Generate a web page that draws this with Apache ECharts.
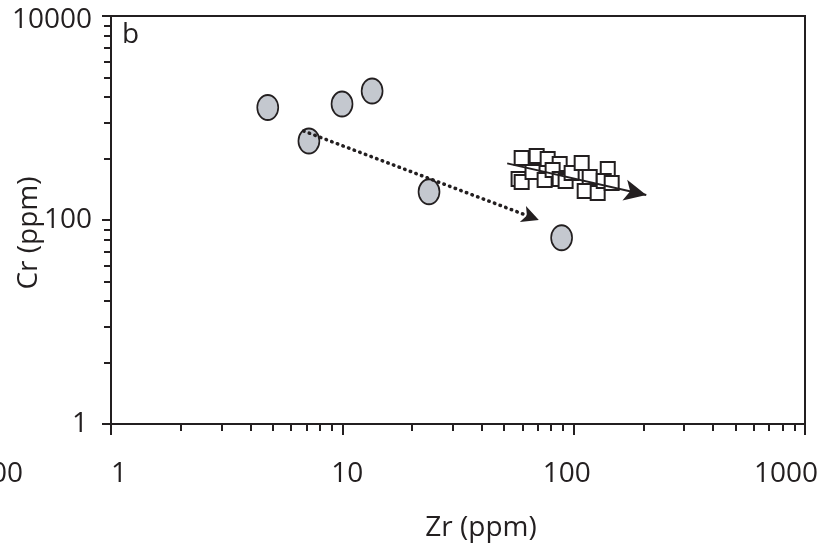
<!DOCTYPE html>
<html>
<head>
<meta charset="utf-8">
<script src="https://cdn.jsdelivr.net/npm/echarts@6/dist/echarts.min.js"></script>
<style>
html,body{margin:0;padding:0;background:#fff;}
#chart{width:831px;height:559px;}
</style>
</head>
<body>
<div id="chart"></div>
<script>
// ---- data ----
const xTickValues = [1, 10, 100, 1000];
const xTickLabels = ['1', '10', '100', '1000'];
const yTickValues = [1, 100, 10000];
const yTickLabels = ['1', '100', '10000'];
const minorMultipliers = [2, 3, 4, 5, 6, 7, 8, 9];

// grey ellipses
const circleZr = [4.76, 7.17, 9.97, 13.45, 23.7, 88.7];
const circleCr = [1268, 595, 1371, 1840, 189, 67];

// open squares
const squareZr = [59.6, 69.2, 77.2, 87.0, 57.8, 59.6, 66.4, 74.9, 81.1, 87.0, 92.3, 98.0, 108.3, 117.3, 111.6, 127.0, 140.4, 134.9, 146.0];
const squareCr = [405, 424, 396, 354, 252, 236, 296, 247, 309, 252, 241, 289, 362, 264, 192, 184, 316, 241, 231];

// trend arrows [start, end]
const dottedArrowZr = [6.8, 70.7];
const dottedArrowCr = [746, 100];
const solidArrowZr = [51.6, 206];
const solidArrowCr = [359, 176];

// ---- styling ----
const INK = '#231f20';
const FONT = '"Open Sans", "Noto Sans", sans-serif';
const FS = 28;
const lg = Math.log10;

// minor tick values
const xMinor = [];
[1, 10, 100].forEach(d => minorMultipliers.forEach(k => xMinor.push(k * d)));
const yMinor = [];
[1, 100].forEach(d => minorMultipliers.forEach(k => yMinor.push(k * k * d)));

// small per-label nudges to match the reference layout
const xLabelShift = [8, 5, -7, -19];
const yLabelShiftX = [4, 0, 0];
const yLabelShiftY = [0, 0, 4];

function richFor(n, padFn) {
  const r = {};
  for (let i = 0; i < n; i++) {
    r['l' + i] = Object.assign({fontFamily: FONT, fontSize: FS, color: INK}, {padding: padFn(i)});
  }
  return r;
}
const xRich = richFor(xTickValues.length, i => {
  const s = xLabelShift[i];
  return s > 0 ? [0, 0, 0, 2 * s] : [0, -2 * s, 0, 0];
});
const yRich = richFor(yTickValues.length, i => {
  const sy = yLabelShiftY[i];
  return [2 * sy, yLabelShiftX[i], 0, 0];
});

function idxOf(arr, v) {
  for (let i = 0; i < arr.length; i++) if (Math.abs(lg(arr[i]) - v) < 1e-6) return i;
  return -1;
}

const circleData = circleZr.map((x, i) => [lg(x), lg(circleCr[i])]);
const squareData = squareZr.map((x, i) => [lg(x), lg(squareCr[i])]);

const tickLine = {color: INK, width: 2};

const option = {
  animation: false,
  grid: {left: 111, right: 26, top: 16, bottom: 135, show: true, borderColor: INK, borderWidth: 2,
         backgroundColor: 'transparent', containLabel: false, outerBoundsMode: 'none'},
  xAxis: [
    {
      type: 'value', min: 0, max: 3, position: 'bottom',
      axisLine: {show: true, onZero: false, lineStyle: {color: INK, width: 2}},
      axisTick: {show: true, customValues: xTickValues.map(lg), length: 11, lineStyle: tickLine},
      axisLabel: {
        show: true, customValues: xTickValues.map(lg), margin: 36,
        fontFamily: FONT, fontSize: FS, color: INK,
        formatter: v => { const i = idxOf(xTickValues, v); return '{l' + i + '|' + xTickLabels[i] + '}'; },
        rich: xRich
      },
      splitLine: {show: false},
      name: 'Zr (ppm)', nameLocation: 'middle', nameGap: 90, nameMoveOverlap: false,
      nameTextStyle: {fontFamily: FONT, fontSize: FS, color: INK, padding: [0, 0, 0, 46]}
    },
    {
      type: 'value', min: 0, max: 3, position: 'bottom',
      axisLine: {show: false, onZero: false},
      axisTick: {show: true, customValues: xMinor.map(lg), length: 7, lineStyle: tickLine},
      axisLabel: {show: false},
      splitLine: {show: false}
    }
  ],
  yAxis: [
    {
      type: 'value', min: 0, max: 4, position: 'left',
      axisLine: {show: true, onZero: false, lineStyle: {color: INK, width: 2}},
      axisTick: {show: true, customValues: yTickValues.map(lg), length: 9, lineStyle: tickLine},
      axisLabel: {
        show: true, customValues: yTickValues.map(lg), margin: 19,
        fontFamily: FONT, fontSize: FS, color: INK,
        formatter: v => { const i = idxOf(yTickValues, v); return '{l' + i + '|' + yTickLabels[i] + '}'; },
        rich: yRich
      },
      splitLine: {show: false},
      name: 'Cr (ppm)', nameLocation: 'middle', nameGap: 68, nameMoveOverlap: false,
      nameTextStyle: {fontFamily: FONT, fontSize: FS, color: INK, padding: [0, 26, 0, 0]}
    },
    {
      type: 'value', min: 0, max: 4, position: 'left',
      axisLine: {show: false, onZero: false},
      axisTick: {show: true, customValues: yMinor.map(lg), length: 7, lineStyle: tickLine},
      axisLabel: {show: false},
      splitLine: {show: false}
    }
  ],
  graphic: [
    {type: 'text', left: 122, top: 21, style: {text: 'b', font: FS + 'px ' + FONT, fill: INK}},
    {type: 'text', x: 23, y: 474, style: {text: '100', font: FS + 'px ' + FONT, fill: INK, textAlign: 'right', textVerticalAlign: 'middle'}}
  ],
  series: [
    {
      type: 'scatter', xAxisIndex: 0, yAxisIndex: 0, z: 3,
      symbol: 'circle', symbolSize: [21, 25],
      itemStyle: {color: '#c4c8cf', borderColor: INK, borderWidth: 1.8, opacity: 1},
      data: circleData
    },
    {
      type: 'scatter', xAxisIndex: 0, yAxisIndex: 0, z: 3,
      symbol: 'rect', symbolSize: 14,
      itemStyle: {color: '#ffffff', borderColor: INK, borderWidth: 2, opacity: 1},
      data: squareData
    },
    {
      type: 'scatter', xAxisIndex: 0, yAxisIndex: 0, z: 5, data: [],
      markLine: {
        silent: true, animation: false, label: {show: false},
        symbol: ['none', 'arrow'],
        data: [
          [
            {coord: [lg(dottedArrowZr[0]), lg(dottedArrowCr[0])], symbol: 'none'},
            {coord: [lg(dottedArrowZr[1]), lg(dottedArrowCr[1])], symbol: 'arrow', symbolSize: [13, 17],
             lineStyle: {type: [0.5, 5.5], cap: 'round', width: 3.5, color: INK}}
          ],
          [
            {coord: [lg(solidArrowZr[0]), lg(solidArrowCr[0])], symbol: 'none'},
            {coord: [lg(solidArrowZr[1]), lg(solidArrowCr[1])], symbol: 'arrow', symbolSize: [16, 22],
             lineStyle: {type: 'solid', width: 2, color: INK}}
          ]
        ],
        lineStyle: {color: INK, width: 2, opacity: 1},
        itemStyle: {color: INK}
      }
    }
  ]
};

const chart = echarts.init(document.getElementById('chart'), null, {renderer: 'canvas'});
chart.setOption(option);
</script>
</body>
</html>
